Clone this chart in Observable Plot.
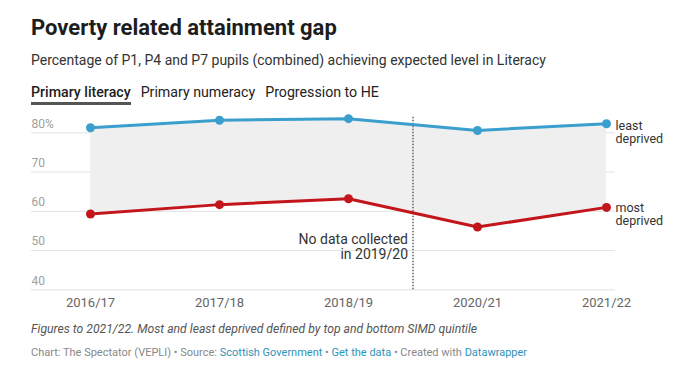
<!DOCTYPE html>
<html>
<head>
<meta charset="utf-8">
<script src="https://cdn.jsdelivr.net/npm/d3@7"></script>
<script src="https://cdn.jsdelivr.net/npm/@observablehq/plot@0.6"></script>
<style>
  html, body { margin: 0; padding: 0; background: #fff; }
  body { width: 690px; height: 367px; position: relative; font-family: Roboto, "Noto Sans", sans-serif; overflow: hidden; }
  .abs { position: absolute; left: 31px; white-space: nowrap; }
  #title { top: 14px; font-size: 22px; font-weight: 700; color: #1d1d1d; line-height: 28px; }
  #subtitle { top: 50px; font-size: 14px; color: #333; line-height: 20px; }
  #tabs { top: 82px; font-size: 14.2px; line-height: 20px; color: #222; }
  #tabs span { display: inline-block; margin-right: 10px; }
  #tabs span.active { font-weight: 500; color: #1d1d1d; border-bottom: 3px solid #555; padding-bottom: 0px; }
  #chart { position: absolute; left: 0; top: 110px; }
  #note { top: 320px; font-size: 12.2px; font-style: italic; color: #555; line-height: 18px; }
  #credit { top: 345px; font-size: 11px; color: #888; line-height: 16px; }
  #credit a { color: #2e93b9; text-decoration: none; }
</style>
</head>
<body>
<div id="title" class="abs">Poverty related attainment gap</div>
<div id="subtitle" class="abs">Percentage of P1, P4 and P7 pupils (combined) achieving expected level in Literacy</div>
<div id="tabs" class="abs"><span class="active">Primary literacy</span><span>Primary numeracy</span><span>Progression to HE</span></div>
<div id="chart"></div>
<div id="note" class="abs">Figures to 2021/22. Most and least deprived defined by top and bottom SIMD quintile</div>
<div id="credit" class="abs">Chart: The Spectator (VEPLI) • Source: <a>Scottish Government</a> • <a>Get the data</a> • Created with <a>Datawrapper</a></div>
<script>
// ---- data ----
const years = ["2016/17", "2017/18", "2018/19", "2020/21", "2021/22"];
const yearIndex = [0, 1, 2, 3, 4];
const leastDeprived = [81.3, 83.2, 83.6, 80.6, 82.3];
const mostDeprived = [59.3, 61.7, 63.2, 56.0, 61.0];
const yTicks = [40, 50, 60, 70, 80];
const noDataPos = 2.5; // 2019/20 gap between 2018/19 and 2020/21
const noDataLabel = "No data collected\nin 2019/20";
const seriesLabels = ["least\ndeprived", "most\ndeprived"];

const blue = "#3a9fcc";
const red = "#c3161c";

const rows = yearIndex.map((i, k) => ({i, year: years[k], least: leastDeprived[k], most: mostDeprived[k]}));

const chart = Plot.plot({
  width: 690,
  height: 205,
  marginLeft: 31,
  marginRight: 75,
  marginTop: 0,
  marginBottom: 0,
  x: {type: "linear", domain: [0, 4], range: [90, 606], axis: null},
  y: {domain: [40, 80], range: [179.3, 22.3], axis: null},
  style: {fontFamily: "Roboto, 'Noto Sans', sans-serif", background: "transparent", overflow: "visible"},
  marks: [
    Plot.ruleY(yTicks, {stroke: "#e2e2e2", strokeWidth: 1}),
    Plot.text(yTicks, {y: d => d, frameAnchor: "left", text: d => d === 80 ? "80%" : String(d), textAnchor: "start", dy: -9, fill: "#a0a0a0", fontSize: 12}),
    Plot.areaY(rows, {x: "i", y1: "most", y2: "least", fill: "#efefef"}),
    Plot.ruleX([noDataPos], {y1: 40, y2: 84, stroke: "#666", strokeWidth: 1.5, strokeDasharray: "1.5,1.5"}),
    Plot.text([noDataPos], {x: d => d, y: 51.0, text: () => noDataLabel, textAnchor: "end", dx: -5, fill: "#333", fontSize: 14, lineHeight: 1.08}),
    Plot.line(rows, {x: "i", y: "least", stroke: blue, strokeWidth: 3}),
    Plot.line(rows, {x: "i", y: "most", stroke: red, strokeWidth: 3}),
    Plot.dot(rows, {x: "i", y: "least", fill: blue, r: 4.5}),
    Plot.dot(rows, {x: "i", y: "most", fill: red, r: 4.5}),
    Plot.text([rows[rows.length - 1]], {x: "i", y: "least", text: () => seriesLabels[0], textAnchor: "start", lineAnchor: "top", dx: 9, dy: -3.5, fill: "#333", fontSize: 12.5, lineHeight: 1.08}),
    Plot.text([rows[rows.length - 1]], {x: "i", y: "most", text: () => seriesLabels[1], textAnchor: "start", lineAnchor: "top", dx: 9, dy: -5, fill: "#333", fontSize: 12.5, lineHeight: 1.08}),
    Plot.text(rows, {x: "i", y: () => 40, text: "year", dy: 13, fill: "#666", fontSize: 13})
  ]
});
document.getElementById("chart").appendChild(chart);
</script>
</body>
</html>
